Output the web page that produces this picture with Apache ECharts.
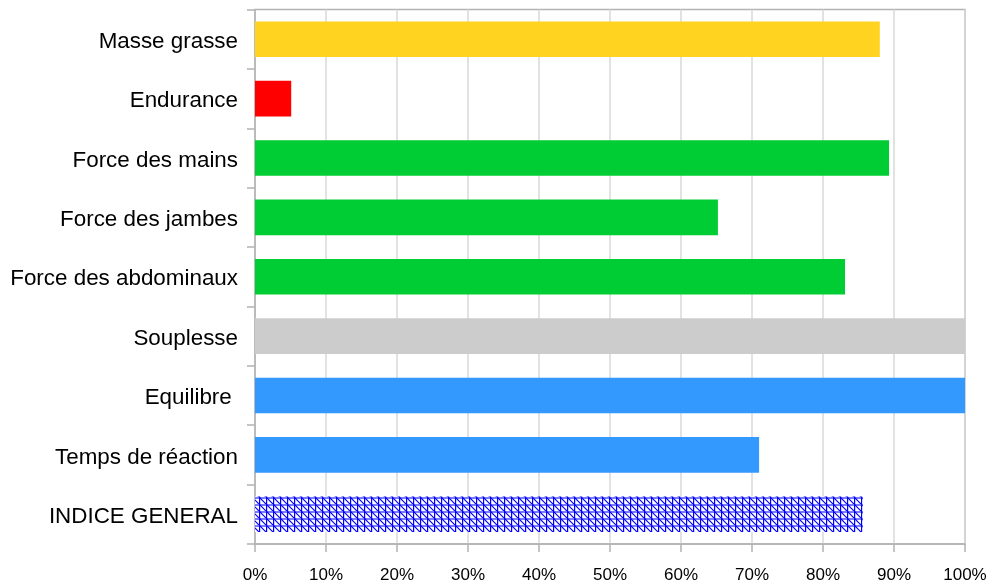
<!DOCTYPE html>
<html>
<head>
<meta charset="utf-8">
<script src="https://cdn.jsdelivr.net/npm/echarts@6/dist/echarts.min.js"></script>
<style>
html,body{margin:0;padding:0;background:#fff;}
#c{width:990px;height:584px;}
</style>
</head>
<body>
<div id="c"></div>
<script>
// Data (top to bottom as displayed)
var categories = ["Masse grasse", "Endurance", "Force des mains", "Force des jambes", "Force des abdominaux", "Souplesse", "Equilibre ", "Temps de réaction", "INDICE GENERAL"];
var values = [88.0, 5.1, 89.3, 65.2, 83.1, 100, 100, 71.0, 85.6];
var barColors = ["#ffd320", "#ff0000", "#00cc33", "#00cc33", "#00cc33", "#cccccc", "#3399ff", "#3399ff", "hatch"];
var xTicks = [0, 10, 20, 30, 40, 50, 60, 70, 80, 90, 100];

function makeHatch() {
  var s = 7;
  var cv = document.createElement('canvas');
  cv.width = s; cv.height = s;
  var ctx = cv.getContext('2d');
  ctx.fillStyle = '#ffffff';
  ctx.fillRect(0, 0, s, s);
  ctx.strokeStyle = '#5a5aff';
  ctx.lineWidth = 1.6;
  ctx.beginPath();
  ctx.moveTo(0, 1); ctx.lineTo(s, 1);
  ctx.stroke();
  ctx.lineWidth = 1.2;
  ctx.strokeStyle = '#0000ff';
  ctx.beginPath();
  ctx.moveTo(0.6, 0); ctx.lineTo(0.6, s);
  ctx.stroke();
  ctx.strokeStyle = '#0000ff';
  ctx.lineWidth = 1.2;
  ctx.beginPath();
  ctx.moveTo(-1, -1); ctx.lineTo(s + 1, s + 1);
  ctx.stroke();
  return cv;
}
var hatch = { image: makeHatch(), repeat: 'repeat' };

var chart = echarts.init(document.getElementById('c'), null, { renderer: 'canvas' });
var data = values.map(function (v, i) {
  return { value: v, itemStyle: { color: barColors[i] === 'hatch' ? hatch : barColors[i] } };
});

chart.setOption({
  animation: false,
  backgroundColor: '#ffffff',
  grid: { left: 255, right: 25, top: 9.5, bottom: 39, show: true, borderColor: '#b3b3b3', borderWidth: 1.5, containLabel: false },
  xAxis: {
    type: 'value', min: 0, max: 100, interval: 10,
    axisLine: { show: true, lineStyle: { color: '#b3b3b3', width: 1.5 } },
    axisTick: { show: true, length: 8, lineStyle: { color: '#b3b3b3', width: 1.5 } },
    splitLine: { show: true, lineStyle: { color: '#d9d9d9', width: 1.5 } },
    axisLabel: { margin: 23, color: '#000', fontSize: 17, fontFamily: 'Liberation Sans, Arial, sans-serif',
      formatter: function (v) { return v + '%'; } }
  },
  yAxis: {
    type: 'category', data: categories, inverse: true,
    axisLine: { show: true, lineStyle: { color: '#b3b3b3', width: 1.5 } },
    axisTick: { show: true, length: 8, lineStyle: { color: '#b3b3b3', width: 1.5 } },
    axisLabel: { margin: 17, color: '#000', fontSize: 22.4, fontFamily: 'Liberation Sans, Arial, sans-serif',
      formatter: function (v) { return '{a|' + v + '}'; },
      rich: { a: { fontSize: 22.4, fontFamily: 'Liberation Sans, Arial, sans-serif', color: '#000', padding: [5, 0, 0, 0] } } },
    splitLine: { show: false }
  },
  series: [{
    type: 'bar', data: data, barCategoryGap: '40%'
  }]
});
</script>
</body>
</html>
